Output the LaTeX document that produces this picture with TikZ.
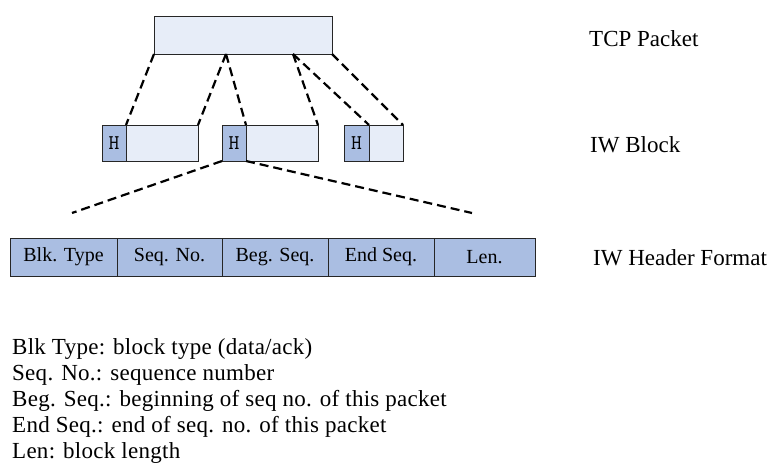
\documentclass[tikz,border=0pt]{standalone}
\usepackage{fontspec}
\setmainfont{Liberation Serif}
\definecolor{lightfill}{RGB}{231,237,248}
\definecolor{darkfill}{RGB}{170,190,226}
\begin{document}
\begin{tikzpicture}[x=1pt,y=-1pt,
  cell/.style={draw=black!85, line width=0.9pt, inner sep=0pt, outer sep=0pt, anchor=north west},
  lightbox/.style={cell, fill=lightfill},
  darkbox/.style={cell, fill=darkfill},
  conn/.style={line width=2.2pt, dash pattern=on 9pt off 5pt},
  lbl/.style={anchor=base west, inner sep=0pt, font=\fontsize{23}{27}\selectfont},
  legend/.style={anchor=base west, inner sep=0pt, font=\addfontfeature{LetterSpace=1.2}\fontsize{23}{27}\selectfont},
  celltxt/.style={font=\fontsize{20}{22}\selectfont},
  htxt/.style={font=\ttfamily\fontsize{21}{22}\selectfont}]
\useasboundingbox (0,0) rectangle (774,468);

% TCP packet
\node[lightbox, minimum width=178pt, minimum height=38pt] (tcp) at (154,16) {};
\coordinate (t1) at (226,54);
\coordinate (t2) at (293,54);

% IW blocks
\node[darkbox, minimum width=24pt, minimum height=36pt, htxt] (h1) at (102,125) {H};
\node[lightbox, minimum width=72pt, minimum height=36pt] (b1) at (126,125) {};
\node[darkbox, minimum width=24pt, minimum height=36pt, htxt] (h2) at (222,125) {H};
\node[lightbox, minimum width=72pt, minimum height=36pt] (b2) at (246,125) {};
\node[darkbox, minimum width=25pt, minimum height=36pt, htxt] (h3) at (344,125) {H};
\node[lightbox, minimum width=34pt, minimum height=36pt] (b3) at (369,125) {};

% connectors packet -> blocks
\draw[conn] (tcp.south west) -- (b1.north west);
\draw[conn] (t1) -- (b1.north east);
\draw[conn] (t1) -- (b2.north west);
\draw[conn] (t2) -- (b2.north east);
\draw[conn] (t2) -- (b3.north west);
\draw[conn] (tcp.south east) -- (b3.north east);

% expansion lines
\coordinate (l1) at (72,213);
\coordinate (r1) at (472,213);
\draw[conn] (h2.south west) -- (l1);
\draw[conn] (h2.south east) -- (r1);

% header format
\node[darkbox, minimum width=107pt, minimum height=38pt, celltxt] (c1) at (10,238) {Blk. Type};
\node[darkbox, minimum width=105pt, minimum height=38pt, celltxt] (c2) at (117,238) {Seq. No.};
\node[darkbox, minimum width=106pt, minimum height=38pt, celltxt] (c3) at (222,238) {Beg. Seq.};
\node[darkbox, minimum width=106pt, minimum height=38pt, celltxt] (c4) at (328,238) {End Seq.};
\node[darkbox, minimum width=101pt, minimum height=38pt, celltxt] (c5) at (434,238) {Len.};

% right labels
\node[lbl] (lab1) at (589,47) {TCP Packet};
\node[lbl] (lab2) at (590,153) {IW Block};
\node[lbl] (lab3) at (593,265) {IW Header Format};

% legend
\node[legend] (g1) at (12,354) {Blk Type: block type (data/ack)};
\node[legend] (g2) at (12,380) {Seq. No.: sequence number};
\node[legend] (g3) at (12,406) {Beg. Seq.: beginning of seq no. of this packet};
\node[legend] (g4) at (12,432) {End Seq.: end of seq. no. of this packet};
\node[legend] (g5) at (12,458) {Len: block length};
\end{tikzpicture}
\end{document}
